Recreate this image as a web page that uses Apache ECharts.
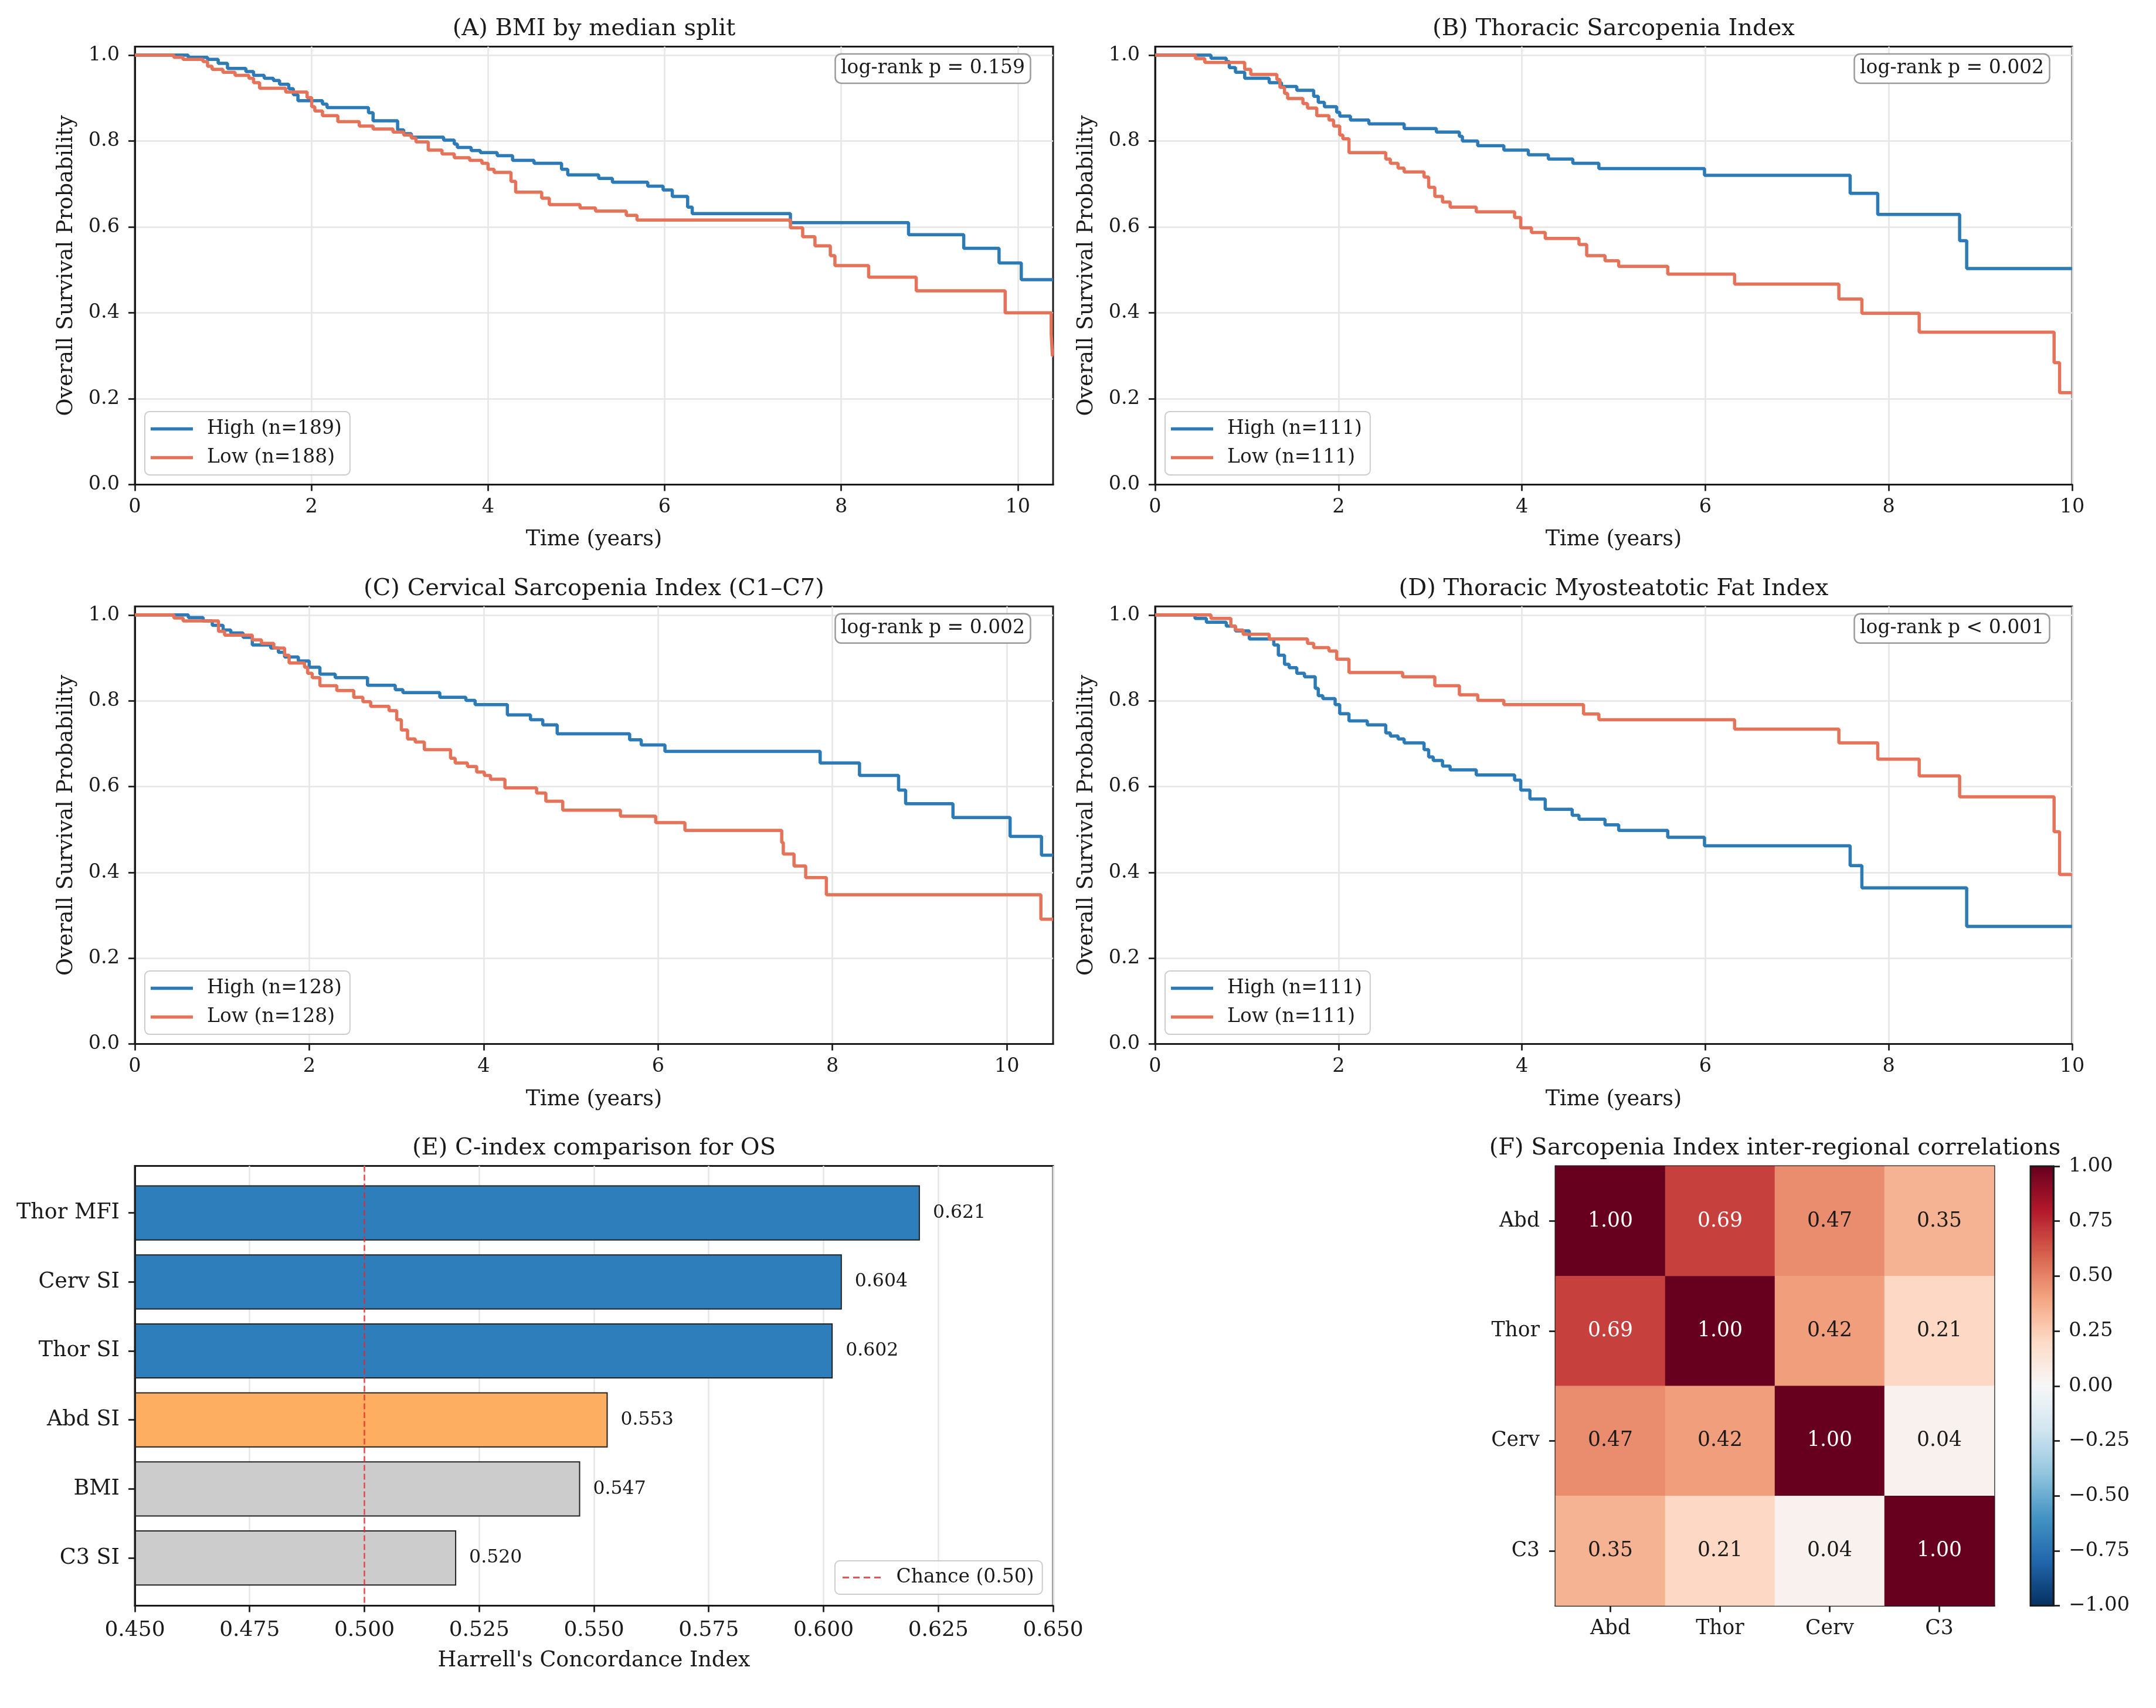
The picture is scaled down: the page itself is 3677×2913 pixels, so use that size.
<!DOCTYPE html>
<html>
<head>
<meta charset="utf-8">
<script src="https://cdn.jsdelivr.net/npm/echarts@6/dist/echarts.min.js"></script>
<style>
  html, body { margin: 0; padding: 0; background: #fff; }
  #chart { width: 3677px; height: 2913px; }
</style>
</head>
<body>
<div id="chart"></div>
<script>
// Kaplan-Meier steps: time (years) and survival after each drop
const aHighT = [0, 0.604, 0.823, 0.944, 1.049, 1.257, 1.344, 1.465, 1.569, 1.639, 1.743, 1.795, 1.847, 2.125, 2.177, 2.646, 2.698, 2.976, 3.045, 3.132, 3.497, 3.618, 3.653, 3.809, 3.913, 4.104, 4.278, 4.521, 4.833, 4.903, 5.253, 5.409, 5.809, 5.983, 6.087, 6.261, 6.313, 7.425, 8.763, 9.388, 9.788, 10.04, 10.4];
const aHighS = [1.0, 0.995, 0.990, 0.981, 0.969, 0.962, 0.953, 0.946, 0.941, 0.932, 0.922, 0.908, 0.894, 0.886, 0.878, 0.866, 0.847, 0.826, 0.817, 0.809, 0.802, 0.793, 0.785, 0.778, 0.773, 0.766, 0.755, 0.748, 0.734, 0.721, 0.713, 0.704, 0.695, 0.686, 0.671, 0.646, 0.631, 0.610, 0.582, 0.550, 0.516, 0.477, 0.477];
const aLowT = [0, 0.441, 0.545, 0.771, 0.823, 0.875, 0.997, 1.135, 1.292, 1.344, 1.413, 1.708, 1.951, 2.003, 2.038, 2.125, 2.299, 2.542, 2.698, 2.924, 3.045, 3.132, 3.184, 3.323, 3.479, 3.618, 3.792, 3.931, 4.000, 4.069, 4.260, 4.313, 4.608, 4.694, 5.042, 5.218, 5.566, 5.687, 7.425, 7.564, 7.703, 7.877, 7.929, 8.311, 8.850, 9.857, 10.379, 10.392, 10.4];
const aLowS = [1.0, 0.995, 0.990, 0.985, 0.974, 0.967, 0.960, 0.953, 0.946, 0.936, 0.923, 0.914, 0.901, 0.880, 0.870, 0.859, 0.845, 0.835, 0.828, 0.821, 0.814, 0.807, 0.798, 0.779, 0.770, 0.761, 0.755, 0.748, 0.734, 0.727, 0.706, 0.681, 0.667, 0.652, 0.644, 0.637, 0.627, 0.616, 0.598, 0.577, 0.556, 0.533, 0.510, 0.483, 0.451, 0.400, 0.350, 0.300, 0.300];

const bHighT = [0, 0.609, 0.776, 0.809, 0.876, 0.977, 1.244, 1.378, 1.545, 1.729, 1.779, 1.846, 1.980, 2.013, 2.130, 2.331, 2.716, 3.067, 3.318, 3.351, 3.518, 3.803, 4.070, 4.288, 4.555, 4.839, 5.991, 7.579, 7.880, 8.773, 8.850, 10];
const bHighS = [1.0, 0.993, 0.985, 0.971, 0.960, 0.946, 0.936, 0.927, 0.918, 0.904, 0.890, 0.880, 0.867, 0.858, 0.849, 0.840, 0.829, 0.821, 0.811, 0.800, 0.789, 0.779, 0.768, 0.758, 0.748, 0.736, 0.720, 0.678, 0.629, 0.568, 0.503, 0.503];
const bLowT = [0, 0.441, 0.542, 0.977, 1.043, 1.328, 1.361, 1.411, 1.445, 1.612, 1.662, 1.763, 1.896, 1.946, 2.013, 2.047, 2.114, 2.515, 2.565, 2.649, 2.716, 2.933, 2.983, 3.050, 3.134, 3.217, 3.502, 3.920, 3.987, 4.104, 4.254, 4.622, 4.706, 4.906, 5.055, 5.590, 6.319, 7.456, 7.707, 8.332, 9.803, 9.863, 10];
const bLowS = [1.0, 0.992, 0.983, 0.967, 0.955, 0.943, 0.925, 0.911, 0.899, 0.887, 0.877, 0.859, 0.849, 0.835, 0.814, 0.805, 0.773, 0.758, 0.748, 0.737, 0.728, 0.716, 0.692, 0.671, 0.658, 0.646, 0.635, 0.622, 0.598, 0.587, 0.573, 0.559, 0.533, 0.521, 0.508, 0.490, 0.467, 0.432, 0.399, 0.355, 0.284, 0.214, 0.214];

const cHighT = [0, 0.613, 0.783, 0.888, 1.012, 1.100, 1.241, 1.347, 1.558, 1.646, 1.717, 1.875, 1.999, 2.122, 2.298, 2.668, 2.986, 3.074, 3.497, 3.796, 3.902, 4.272, 4.537, 4.678, 4.843, 5.674, 5.807, 6.079, 7.859, 8.310, 8.758, 8.839, 9.382, 10.037, 10.397, 10.53];
const cHighS = [1.0, 0.994, 0.986, 0.976, 0.965, 0.958, 0.948, 0.930, 0.923, 0.913, 0.902, 0.893, 0.878, 0.862, 0.854, 0.836, 0.826, 0.819, 0.808, 0.801, 0.791, 0.767, 0.756, 0.744, 0.723, 0.709, 0.697, 0.682, 0.655, 0.626, 0.592, 0.560, 0.528, 0.484, 0.440, 0.440];
const cLowT = [0, 0.448, 0.553, 0.959, 1.029, 1.347, 1.452, 1.593, 1.717, 1.769, 1.946, 1.981, 2.034, 2.122, 2.316, 2.510, 2.615, 2.704, 2.915, 3.003, 3.056, 3.127, 3.215, 3.320, 3.620, 3.673, 3.814, 3.920, 4.008, 4.078, 4.244, 4.607, 4.713, 4.907, 5.568, 5.973, 6.308, 7.418, 7.436, 7.559, 7.693, 7.930, 10.390, 10.53];
const cLowS = [1.0, 0.993, 0.986, 0.962, 0.953, 0.942, 0.934, 0.923, 0.906, 0.888, 0.878, 0.864, 0.854, 0.835, 0.824, 0.808, 0.798, 0.787, 0.777, 0.756, 0.732, 0.711, 0.704, 0.686, 0.666, 0.655, 0.647, 0.634, 0.626, 0.617, 0.597, 0.585, 0.566, 0.545, 0.531, 0.516, 0.498, 0.470, 0.443, 0.415, 0.388, 0.348, 0.291, 0.291];

const dHighT = [0, 0.435, 0.559, 0.776, 0.876, 1.027, 1.294, 1.344, 1.411, 1.462, 1.545, 1.629, 1.746, 1.779, 1.829, 1.963, 2.013, 2.114, 2.314, 2.515, 2.565, 2.649, 2.716, 2.933, 2.983, 3.033, 3.134, 3.217, 3.502, 3.920, 3.987, 4.087, 4.254, 4.548, 4.622, 4.906, 5.055, 5.590, 5.991, 7.579, 7.707, 8.850, 10];
const dHighS = [1.0, 0.992, 0.983, 0.974, 0.963, 0.944, 0.930, 0.906, 0.885, 0.877, 0.864, 0.856, 0.829, 0.812, 0.805, 0.791, 0.770, 0.753, 0.744, 0.725, 0.718, 0.711, 0.702, 0.686, 0.669, 0.661, 0.648, 0.639, 0.627, 0.615, 0.592, 0.571, 0.547, 0.533, 0.524, 0.511, 0.498, 0.482, 0.462, 0.416, 0.364, 0.274, 0.274];
const dLowT = [0, 0.609, 0.826, 0.876, 0.960, 1.244, 1.662, 1.729, 1.896, 1.980, 2.114, 2.699, 3.050, 3.318, 3.518, 3.803, 4.672, 4.839, 6.319, 7.456, 7.880, 8.332, 8.773, 9.803, 9.863, 10];
const dLowS = [1.0, 0.992, 0.974, 0.965, 0.955, 0.944, 0.934, 0.924, 0.916, 0.897, 0.866, 0.856, 0.835, 0.814, 0.801, 0.791, 0.769, 0.756, 0.734, 0.702, 0.664, 0.625, 0.576, 0.495, 0.395, 0.395];

const kmXTicks = [0, 2, 4, 6, 8, 10];
const kmYTicks = [0, 0.2, 0.4, 0.6, 0.8, 1.0];

// C-index comparison
const cModels = ['Thor MFI', 'Cerv SI', 'Thor SI', 'Abd SI', 'BMI', 'C3 SI'];
const cIndex = [0.621, 0.604, 0.602, 0.553, 0.547, 0.520];
const cXTicks = [0.45, 0.475, 0.5, 0.525, 0.55, 0.575, 0.6, 0.625, 0.65];
const chanceLevel = 0.5;

// inter-regional correlation matrix
const regions = ['Abd', 'Thor', 'Cerv', 'C3'];
const corrAbd = [1.00, 0.69, 0.47, 0.35];
const corrThor = [0.69, 1.00, 0.42, 0.21];
const corrCerv = [0.47, 0.42, 1.00, 0.04];
const corrC3 = [0.35, 0.21, 0.04, 1.00];
const cbTicks = [-1, -0.75, -0.5, -0.25, 0, 0.25, 0.5, 0.75, 1];

const FONT = 'DejaVu Serif';
const INK = '#1a1a1a';
const BLUE = '#2c7bb6';
const ORANGE = '#e4735a';
const GRIDLINE = '#e6e6e6';
const RDBU_R = ['#053061', '#2166ac', '#4393c3', '#92c5de', '#d1e5f0', '#f7f7f7',
                '#fddbc7', '#f4a582', '#d6604d', '#b2182b', '#67001f'];
const barColour = { 'Thor MFI': '#2e7ebb', 'Cerv SI': '#2e7ebb', 'Thor SI': '#2e7ebb',
                    'Abd SI': '#fdae61', 'BMI': '#cccccc', 'C3 SI': '#cccccc' };
const LINE_W = 5.5;

const chart = echarts.init(document.getElementById('chart'), null, { width: 3677, height: 2913 });

const kmPanels = [
  { title: '(A) BMI by median split', left: 230, top: 79.4, width: 1566, height: 747, xMax: 10.4,
    hi: [aHighT, aHighS], lo: [aLowT, aLowS], hiName: 'High (n=189)', loName: 'Low (n=188)', p: 'log-rank p = 0.159' },
  { title: '(B) Thoracic Sarcopenia Index', left: 1970, top: 79.4, width: 1564, height: 747, xMax: 10,
    hi: [bHighT, bHighS], lo: [bLowT, bLowS], hiName: 'High (n=111)', loName: 'Low (n=111)', p: 'log-rank p = 0.002' },
  { title: '(C) Cervical Sarcopenia Index (C1\u2013C7)', left: 230, top: 1034.2, width: 1566, height: 746.4, xMax: 10.53,
    hi: [cHighT, cHighS], lo: [cLowT, cLowS], hiName: 'High (n=128)', loName: 'Low (n=128)', p: 'log-rank p = 0.002' },
  { title: '(D) Thoracic Myosteatotic Fat Index', left: 1970, top: 1034.2, width: 1564, height: 746.4, xMax: 10,
    hi: [dHighT, dHighS], lo: [dLowT, dLowS], hiName: 'High (n=111)', loName: 'Low (n=111)', p: 'log-rank p < 0.001' }
];

const grids = [], xAxes = [], yAxes = [], series = [], titles = [], legends = [];
const pairs = (t, s) => t.map((v, i) => [v, s[i]]);
const txt = (size, extra) => Object.assign({ fontFamily: FONT, fontSize: size, color: INK }, extra || {});
const frame = { show: true, borderColor: INK, borderWidth: 3, backgroundColor: 'transparent' };
const spine = { show: true, onZero: false, lineStyle: { color: INK, width: 3 } };
const tick = (vals) => ({ show: true, length: 11, lineStyle: { color: INK, width: 2.7 }, customValues: vals });
const legendBox = { selectedMode: false, backgroundColor: 'rgba(255,255,255,0.8)', borderColor: '#cccccc', borderWidth: 2, borderRadius: 8 };

function panelTitle(text, cx, top) {
  titles.push({ text: text, left: cx, top: top, textAlign: 'center', padding: 0, textStyle: txt(40, { fontWeight: 'normal' }) });
}

kmPanels.forEach((p, i) => {
  grids.push(Object.assign({ left: p.left, top: p.top, width: p.width, height: p.height }, frame));
  xAxes.push({
    gridIndex: i, type: 'value', min: 0, max: p.xMax,
    name: 'Time (years)', nameLocation: 'middle', nameGap: 76, nameTextStyle: txt(36.5),
    axisLine: spine, axisTick: tick(kmXTicks),
    axisLabel: { customValues: kmXTicks, margin: 22, formatter: v => String(v), ...txt(33.5) },
    splitLine: { show: true, lineStyle: { color: GRIDLINE, width: 2.5 } }
  });
  yAxes.push({
    gridIndex: i, type: 'value', min: 0, max: 1.02,
    name: 'Overall Survival Probability', nameLocation: 'middle', nameGap: 98, nameTextStyle: txt(36.5),
    axisLine: spine, axisTick: tick(kmYTicks),
    axisLabel: { customValues: kmYTicks, margin: 26, formatter: v => v.toFixed(1), ...txt(33.5) },
    splitLine: { show: true, lineStyle: { color: GRIDLINE, width: 2.5 } }
  });
  series.push({
    type: 'line', name: p.hiName, xAxisIndex: i, yAxisIndex: i, data: pairs(p.hi[0], p.hi[1]),
    step: 'end', symbol: 'none', lineStyle: { width: LINE_W, color: BLUE }, itemStyle: { color: BLUE }, z: 3
  });
  series.push({
    type: 'line', name: p.loName, xAxisIndex: i, yAxisIndex: i, data: pairs(p.lo[0], p.lo[1]),
    step: 'end', symbol: 'none', lineStyle: { width: LINE_W, color: ORANGE }, itemStyle: { color: ORANGE }, z: 3
  });
  panelTitle(p.title, p.left + p.width / 2, p.top - 50);
  titles.push({
    text: p.p, left: p.left + p.width - 372, top: p.top + 12, textAlign: 'left',
    padding: [9, 10, 9, 10], backgroundColor: '#ffffff', borderColor: '#9a9a9a', borderWidth: 2.5, borderRadius: 10,
    textStyle: txt(33, { fontWeight: 'normal' })
  });
  legends.push(Object.assign({
    data: [p.hiName, p.loName], orient: 'vertical', left: p.left + 17, top: p.top + p.height - 124.5,
    padding: [13, 14, 13, 10], itemGap: 16, itemWidth: 72, itemHeight: LINE_W, icon: 'rect',
    textStyle: txt(33, { padding: [0, 0, 0, 19] })
  }, legendBox));
});

// (E) C-index bars: outer grid is the frame and x scale, inner grid holds the category bands
const eLeft = 230, eWidth = 1566, eTop = 1988.5, eHeight = 750;
grids.push(Object.assign({ left: eLeft, top: eTop, width: eWidth, height: eHeight }, frame));
xAxes.push({
  gridIndex: 4, type: 'value', min: 0.45, max: 0.65,
  name: "Harrell's Concordance Index", nameLocation: 'middle', nameGap: 76, nameTextStyle: txt(36.5),
  axisLine: spine, axisTick: tick(cXTicks),
  axisLabel: { customValues: cXTicks, margin: 24, formatter: v => v.toFixed(3), ...txt(36) },
  splitLine: { show: true, lineStyle: { color: GRIDLINE, width: 2.5 } }
});
yAxes.push({
  gridIndex: 4, type: 'value', min: -0.69, max: 5.69, inverse: true,
  axisLine: spine, axisTick: { show: false }, axisLabel: { show: false }, splitLine: { show: false }
});
grids.push({ left: eLeft, top: 2009.75, width: eWidth, height: 706.2 });
xAxes.push({ gridIndex: 5, type: 'value', min: 0.45, max: 0.65, startValue: 0.45, show: false });
yAxes.push({
  gridIndex: 5, type: 'category', data: cModels, inverse: true,
  axisLine: { show: false },
  axisTick: { show: true, alignWithLabel: true, length: 11, lineStyle: { color: INK, width: 2.7 } },
  axisLabel: { margin: 26, ...txt(36.5) }
});
series.push({
  type: 'bar', name: 'C-index', xAxisIndex: 5, yAxisIndex: 5, barWidth: '80%',
  data: cIndex.map((v, i) => ({ value: v, itemStyle: { color: barColour[cModels[i]] } })),
  itemStyle: { borderColor: '#222', borderWidth: 2 },
  label: { show: true, position: 'right', distance: 22, formatter: d => d.value.toFixed(3), ...txt(31.5) },
  z: 2
});
const CHANCE_RED = 'rgba(228,40,40,0.8)';
series.push({
  type: 'line', name: 'Chance (0.50)', xAxisIndex: 4, yAxisIndex: 4,
  data: [[chanceLevel, -0.69], [chanceLevel, 5.69]], symbol: 'none',
  lineStyle: { color: CHANCE_RED, width: 2.5, type: [10, 5] },
  itemStyle: { color: CHANCE_RED }, z: 5
});
legends.push(Object.assign({
  data: ['Chance (0.50)'], left: 1424, top: 2662, padding: [12, 14, 12, 13], itemWidth: 66, itemHeight: 3,
  icon: 'path://M0,0h11v3h-11zM18,0h11v3h-11zM36,0h11v3h-11zM54,0h11v3h-11z',
  textStyle: txt(33, { padding: [0, 0, 0, 21] })
}, legendBox));
panelTitle('(E) C-index comparison for OS', eLeft + eWidth / 2, eTop - 50);

// (F) heatmap + colorbar
const fLeft = 2653, fTop = 1989, fSize = 748, fHeight = 749.5;
grids.push(Object.assign({ left: fLeft, top: fTop, width: fSize, height: fHeight }, frame));
xAxes.push({
  gridIndex: 6, type: 'category', data: regions, position: 'bottom',
  axisLine: spine, axisTick: { show: true, alignWithLabel: true, length: 11, lineStyle: { color: INK, width: 2.7 } },
  axisLabel: { margin: 22, ...txt(34.5) }, splitLine: { show: false }
});
yAxes.push({
  gridIndex: 6, type: 'category', data: regions, inverse: true,
  axisLine: spine, axisTick: { show: true, alignWithLabel: true, length: 11, lineStyle: { color: INK, width: 2.7 } },
  axisLabel: { margin: 27, ...txt(34.5) }, splitLine: { show: false }
});
const corrRows = [corrAbd, corrThor, corrCerv, corrC3];
const heatData = [];
corrRows.forEach((row, r) => row.forEach((v, c) => {
  heatData.push({ value: [c, r, v], label: { color: v > 0.5 ? '#ffffff' : INK } });
}));
const heatIndex = series.length;
series.push({
  type: 'heatmap', name: 'corr', xAxisIndex: 6, yAxisIndex: 6, data: heatData,
  label: { show: true, formatter: d => d.value[2].toFixed(2), fontFamily: FONT, fontSize: 34.5 },
  emphasis: { disabled: true }
});
panelTitle('(F) Sarcopenia Index inter-regional correlations', fLeft + fSize / 2, fTop - 50);

const cbLeft = 3463, cbWidth = 39;
grids.push(Object.assign({ left: cbLeft, top: fTop, width: cbWidth, height: fHeight, z: 10 }, frame));
xAxes.push({ gridIndex: 7, type: 'value', min: 0, max: 1, show: false });
yAxes.push({
  gridIndex: 7, type: 'value', min: -1, max: 1, position: 'right', z: 10,
  axisLine: spine, axisTick: tick(cbTicks),
  axisLabel: { customValues: cbTicks, margin: 26, formatter: v => v.toFixed(2).replace('-', '\u2212'), ...txt(34) },
  splitLine: { show: false }
});

chart.setOption({
  animation: false,
  backgroundColor: '#ffffff',
  textStyle: { fontFamily: FONT },
  title: titles,
  legend: legends,
  grid: grids,
  xAxis: xAxes,
  yAxis: yAxes,
  visualMap: {
    type: 'continuous', seriesIndex: heatIndex, min: -1, max: 1, calculable: false, hoverLink: false,
    left: cbLeft, top: fTop, itemWidth: cbWidth, itemHeight: fHeight, padding: 0,
    inRange: { color: RDBU_R }
  },
  series: series
});
</script>
</body>
</html>
